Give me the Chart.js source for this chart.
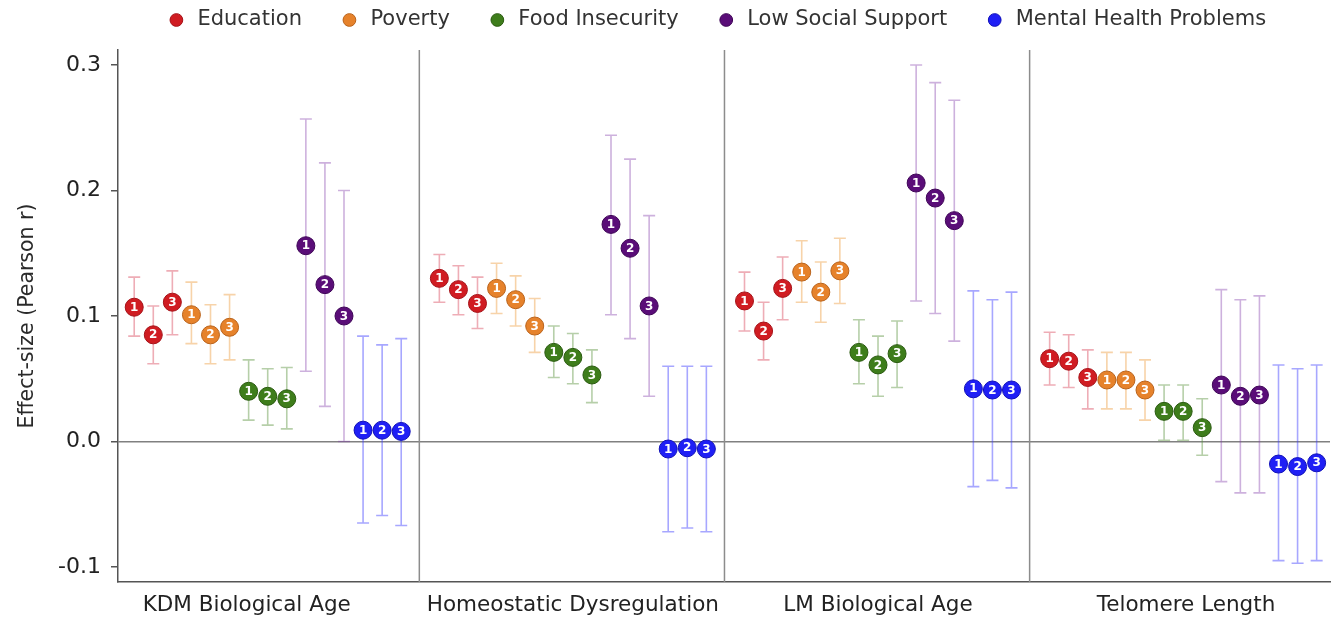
<!DOCTYPE html>
<html>
<head>
<meta charset="utf-8">
<script src="https://cdn.jsdelivr.net/npm/chart.js@4/dist/chart.umd.min.js"></script>
<style>
  html, body { margin: 0; padding: 0; background: #ffffff; }
  #wrap { width: 1342px; height: 622px; }
</style>
</head>
<body>
<div id="wrap"><canvas id="chart" width="1342" height="622"></canvas></div>
<script>
// Outcomes (facets), exposure categories and the three measures in each
const outcomes = ['KDM Biological Age', 'Homeostatic Dysregulation', 'LM Biological Age', 'Telomere Length'];
const categories = ['Education', 'Poverty', 'Food Insecurity', 'Low Social Support', 'Mental Health Problems'];
const measureLabels = ['1', '2', '3'];
const yTicks = [-0.1, 0.0, 0.1, 0.2, 0.3];

// Pearson r per outcome (rows) and measure 1-3 (columns), with 95% CI bounds
const educationR  = [[0.107, 0.085, 0.111], [0.130, 0.121, 0.110], [0.112, 0.088, 0.122], [0.066, 0.064, 0.051]];
const educationLo = [[0.084, 0.062, 0.085], [0.111, 0.101, 0.090], [0.088, 0.065, 0.097], [0.045, 0.043, 0.026]];
const educationHi = [[0.131, 0.108, 0.136], [0.149, 0.140, 0.131], [0.135, 0.111, 0.147], [0.087, 0.085, 0.073]];

const povertyR  = [[0.101, 0.085, 0.091], [0.122, 0.113, 0.092], [0.135, 0.119, 0.136], [0.049, 0.049, 0.041]];
const povertyLo = [[0.078, 0.062, 0.065], [0.102, 0.092, 0.071], [0.111, 0.095, 0.110], [0.026, 0.026, 0.017]];
const povertyHi = [[0.127, 0.109, 0.117], [0.142, 0.132, 0.114], [0.160, 0.143, 0.162], [0.071, 0.071, 0.065]];

const foodR  = [[0.040, 0.036, 0.034], [0.071, 0.067, 0.053], [0.071, 0.061, 0.070], [0.024, 0.024, 0.011]];
const foodLo = [[0.017, 0.013, 0.010], [0.051, 0.046, 0.031], [0.046, 0.036, 0.043], [0.001, 0.001, -0.011]];
const foodHi = [[0.065, 0.058, 0.059], [0.092, 0.086, 0.073], [0.097, 0.084, 0.096], [0.045, 0.045, 0.034]];

const socialR  = [[0.156, 0.125, 0.100], [0.173, 0.154, 0.108], [0.206, 0.194, 0.176], [0.045, 0.036, 0.037]];
const socialLo = [[0.056, 0.028, 0.000], [0.101, 0.082, 0.036], [0.112, 0.102, 0.080], [-0.032, -0.041, -0.041]];
const socialHi = [[0.257, 0.222, 0.200], [0.244, 0.225, 0.180], [0.300, 0.286, 0.272], [0.121, 0.113, 0.116]];

const mentalR  = [[0.009, 0.009, 0.008], [-0.006, -0.005, -0.006], [0.042, 0.041, 0.041], [-0.018, -0.020, -0.017]];
const mentalLo = [[-0.065, -0.059, -0.067], [-0.072, -0.069, -0.072], [-0.036, -0.031, -0.037], [-0.095, -0.097, -0.095]];
const mentalHi = [[0.084, 0.077, 0.082], [0.060, 0.060, 0.060], [0.120, 0.113, 0.119], [0.061, 0.058, 0.061]];

const seriesR  = [educationR, povertyR, foodR, socialR, mentalR];
const seriesLo = [educationLo, povertyLo, foodLo, socialLo, mentalLo];
const seriesHi = [educationHi, povertyHi, foodHi, socialHi, mentalHi];

const pointColors = ['#d01c22', '#e6822b', '#3e7d1b', '#5a0d78', '#1f1ff5'];
const pointEdges  = ['#a51218', '#b9621a', '#2a5a10', '#3e0556', '#1010b8'];
const barColors   = ['rgba(214,60,80,0.42)', 'rgba(236,150,50,0.42)', 'rgba(80,140,50,0.42)', 'rgba(130,60,170,0.40)', 'rgba(60,60,255,0.45)'];

// Horizontal layout: each facet spans PANEL units, the 15 estimates sit one unit apart
const PANEL = 16;
const FIRST = 0.85;
const X_MAX = 63.55;
const dividerValues = [1, 2, 3].map(p => p * PANEL - 0.2);
const labelNudge = [-1.1, 0, 0, 0.15];
const labelValues = outcomes.map((o, p) => p * PANEL + FIRST + 7 + labelNudge[p]);

Chart.defaults.font.family = "'DejaVu Sans', sans-serif";
Chart.defaults.color = '#2a2a2a';

const datasets = categories.map((name, c) => ({
  label: name,
  data: outcomes.flatMap((o, p) => measureLabels.map((m, k) => ({
    x: p * PANEL + FIRST + c * 3 + k,
    y: seriesR[c][p][k],
    lo: seriesLo[c][p][k],
    hi: seriesHi[c][p][k],
    n: m
  }))),
  showLine: false,
  pointStyle: 'circle',
  pointRadius: 9,
  pointHoverRadius: 9,
  pointBorderWidth: 1,
  backgroundColor: pointColors[c],
  borderColor: pointEdges[c]
}));

// Facet dividers, confidence intervals and measure numbers
const facetPlot = {
  id: 'facetPlot',
  afterLayout(chart) {
    const lg = chart.legend, a = chart.chartArea;
    if (!lg) return;
    lg.left = a.left - 8;
    lg.right = a.right - 8;
    lg.top = 20 - 10.5 - lg.options.labels.padding;
  },
  beforeDatasetsDraw(chart) {
    const { ctx, chartArea: a, scales: { x, y } } = chart;
    ctx.save();
    ctx.strokeStyle = '#8c8c8c';
    ctx.lineWidth = 1.5;
    dividerValues.forEach(v => {
      const px = x.getPixelForValue(v);
      ctx.beginPath();
      ctx.moveTo(px, a.top);
      ctx.lineTo(px, a.bottom);
      ctx.stroke();
    });
    chart.data.datasets.forEach((ds, i) => {
      const meta = chart.getDatasetMeta(i);
      ctx.strokeStyle = barColors[i];
      ctx.lineWidth = 1.6;
      meta.data.forEach((pt, j) => {
        const d = ds.data[j];
        const top = y.getPixelForValue(d.hi);
        const bot = y.getPixelForValue(d.lo);
        ctx.beginPath();
        ctx.moveTo(pt.x, top); ctx.lineTo(pt.x, bot);
        ctx.moveTo(pt.x - 6, top); ctx.lineTo(pt.x + 6, top);
        ctx.moveTo(pt.x - 6, bot); ctx.lineTo(pt.x + 6, bot);
        ctx.stroke();
      });
    });
    ctx.restore();
  },
  afterDatasetsDraw(chart) {
    const { ctx } = chart;
    ctx.save();
    ctx.fillStyle = '#ffffff';
    ctx.font = "bold 12px 'DejaVu Sans', sans-serif";
    ctx.textAlign = 'center';
    ctx.textBaseline = 'middle';
    chart.data.datasets.forEach((ds, i) => {
      chart.getDatasetMeta(i).data.forEach((pt, j) => {
        ctx.fillText(ds.data[j].n, pt.x, pt.y + 0.5);
      });
    });
    ctx.restore();
  }
};

new Chart(document.getElementById('chart'), {
  type: 'scatter',
  data: { datasets },
  options: {
    responsive: false,
    animation: false,
    devicePixelRatio: 1,
    layout: { padding: { top: 10, right: 12, bottom: 0, left: 0 } },
    plugins: {
      tooltip: { enabled: false },
      legend: {
        position: 'top',
        maxHeight: 40,
        labels: {
          usePointStyle: true,
          boxWidth: 21,
          boxHeight: 9,
          padding: 37,
          color: '#333333',
          font: { size: 21 }
        }
      }
    },
    scales: {
      x: {
        type: 'linear',
        min: 0,
        max: X_MAX,
        afterBuildTicks: s => { s.ticks = labelValues.map(v => ({ value: v })); },
        afterFit: s => { s.height = 40; },
        grid: { display: false, drawTicks: false },
        border: { display: true, color: '#555555', width: 1.5 },
        ticks: {
          padding: 11,
          maxRotation: 0,
          autoSkip: false,
          color: '#222222',
          font: { size: 21.5 },
          callback: (v, i) => outcomes[i]
        }
      },
      y: {
        min: -0.112,
        max: 0.312,
        afterBuildTicks: s => { s.ticks = yTicks.map(v => ({ value: v })); },
        afterFit: s => { s.width = 118; },
        grid: {
          drawOnChartArea: true,
          drawTicks: true,
          tickLength: 7,
          lineWidth: 1.5,
          color: c => (c.tick && Math.abs(c.tick.value) < 1e-9 ? '#808080' : 'rgba(0,0,0,0)'),
          tickColor: '#555555'
        },
        border: { display: true, color: '#555555', width: 1.5 },
        ticks: {
          padding: 10,
          color: '#222222',
          font: { size: 22 },
          callback: v => v.toFixed(1)
        },
        title: {
          display: true,
          text: 'Effect-size (Pearson r)',
          color: '#2a2a2a',
          font: { size: 20.5 },
          padding: { top: 15, bottom: 0 }
        }
      }
    }
  },
  plugins: [facetPlot]
});
</script>
</body>
</html>
